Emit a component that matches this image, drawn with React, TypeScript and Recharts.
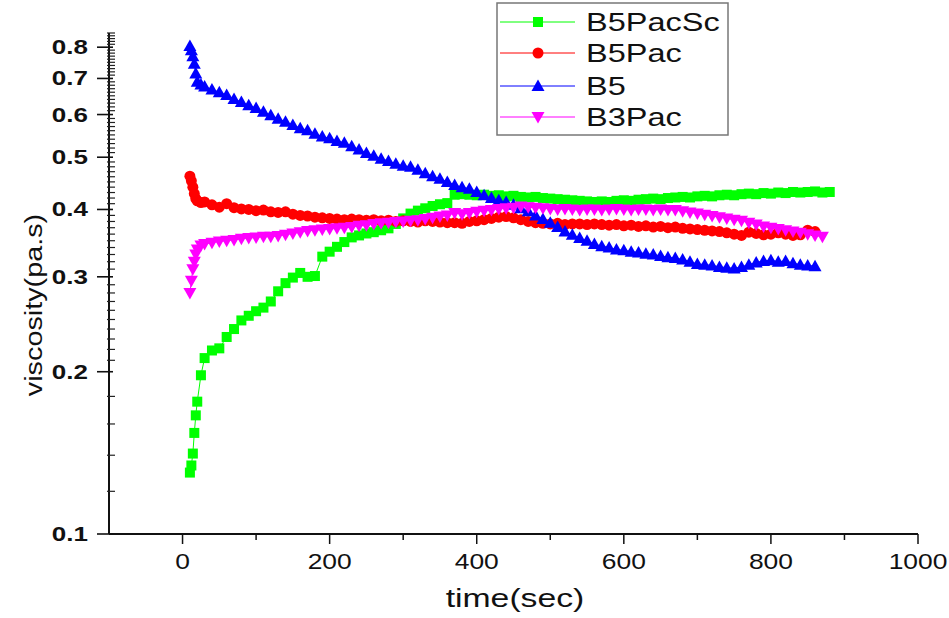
import React from "react";
import { LineChart, Line, XAxis, YAxis } from "recharts";

// time (sec) of each reading
const times = [
  10, 12, 14, 16, 18, 20, 25, 30, 40, 50,
  60, 70, 80, 90, 100, 110, 120, 130, 140, 150,
  160, 170, 180, 190, 200, 210, 220, 230, 240, 250,
  260, 270, 280, 290, 300, 310, 320, 330, 340, 350,
  360, 370, 380, 390, 400, 410, 420, 430, 440, 450,
  460, 470, 480, 490, 500, 510, 520, 530, 540, 550,
  560, 570, 580, 590, 600, 610, 620, 630, 640, 650,
  660, 670, 680, 690, 700, 710, 720, 730, 740, 750,
  760, 770, 780, 790, 800, 810, 820, 830, 840, 850,
  860, 870, 880,
];

const b5PacSc = [
  0.130, 0.134, 0.141, 0.154, 0.166, 0.176, 0.197, 0.212, 0.219, 0.221,
  0.232, 0.240, 0.249, 0.254, 0.259, 0.263, 0.270, 0.282, 0.292, 0.299,
  0.305, 0.300, 0.301, 0.327, 0.334, 0.341, 0.348, 0.355, 0.358, 0.361,
  0.363, 0.366, 0.369, 0.376, 0.385, 0.393, 0.398, 0.402, 0.406, 0.409,
  0.411, 0.426, 0.427, 0.426, 0.425, 0.426, 0.424, 0.425, 0.423, 0.424,
  0.422, 0.421, 0.422, 0.420, 0.419, 0.418, 0.417, 0.416, 0.415, 0.414,
  0.413, 0.414, 0.413, 0.415, 0.416, 0.415, 0.417, 0.418, 0.419, 0.418,
  0.420, 0.421, 0.422, 0.421, 0.423, 0.424, 0.423, 0.425, 0.426, 0.425,
  0.427, 0.428, 0.427, 0.429, 0.428, 0.430, 0.429, 0.431, 0.430, 0.431,
  0.432, 0.430, 0.431,
];

const b5Pac = [
  0.461, 0.452, 0.440, 0.428, 0.419, 0.415, 0.412, 0.413, 0.408, 0.404,
  0.410, 0.403, 0.401, 0.400, 0.398, 0.399, 0.396, 0.395, 0.396, 0.392,
  0.390, 0.389, 0.387, 0.386, 0.385, 0.384, 0.383, 0.384, 0.383, 0.382,
  0.383, 0.381, 0.382, 0.380, 0.381, 0.380, 0.379, 0.381, 0.380, 0.379,
  0.378, 0.378, 0.377, 0.380, 0.381, 0.383, 0.385, 0.387, 0.388, 0.386,
  0.383, 0.380, 0.378, 0.377, 0.376, 0.377, 0.375, 0.376, 0.376, 0.375,
  0.376, 0.375, 0.374, 0.375, 0.373, 0.374, 0.372, 0.373, 0.371, 0.372,
  0.370, 0.371, 0.369, 0.368, 0.367, 0.366, 0.365, 0.364, 0.362, 0.360,
  0.358, 0.363, 0.361, 0.359, 0.360, 0.362, 0.360, 0.358, 0.359, 0.366,
  0.364, null, null,
];

const b5 = [
  0.804, 0.790, 0.770, 0.745, 0.715, 0.690, 0.682, 0.676, 0.668, 0.660,
  0.652, 0.641, 0.633, 0.624, 0.617, 0.607, 0.598, 0.589, 0.582, 0.574,
  0.566, 0.561, 0.553, 0.546, 0.542, 0.536, 0.532, 0.524, 0.517, 0.509,
  0.503, 0.497, 0.492, 0.486, 0.482, 0.480, 0.474, 0.467, 0.461, 0.456,
  0.450, 0.444, 0.440, 0.437, 0.431, 0.425, 0.420, 0.416, 0.413, 0.408,
  0.402, 0.397, 0.390, 0.384, 0.378, 0.371, 0.364, 0.359, 0.354, 0.350,
  0.345, 0.342, 0.340, 0.337, 0.336, 0.334, 0.333, 0.331, 0.330, 0.328,
  0.326, 0.325, 0.323, 0.320, 0.317, 0.316, 0.315, 0.313, 0.312, 0.311,
  0.313, 0.316, 0.319, 0.321, 0.322, 0.320, 0.321, 0.318, 0.316, 0.315,
  0.314, null, null,
];

const b3Pac = [
  0.280, 0.295, 0.310, 0.320, 0.330, 0.337, 0.343, 0.345, 0.347, 0.349,
  0.350, 0.351, 0.353, 0.354, 0.355, 0.356, 0.356, 0.357, 0.359, 0.361,
  0.363, 0.365, 0.366, 0.367, 0.368, 0.369, 0.370, 0.371, 0.373, 0.374,
  0.376, 0.377, 0.378, 0.379, 0.380, 0.381, 0.382, 0.384, 0.386, 0.388,
  0.390, 0.394, 0.392, 0.394, 0.396, 0.398, 0.399, 0.401, 0.402, 0.403,
  0.405, 0.404, 0.403, 0.402, 0.401, 0.400, 0.401, 0.400, 0.399, 0.400,
  0.400, 0.399, 0.400, 0.401, 0.400, 0.399, 0.400, 0.400, 0.399, 0.400,
  0.399, 0.399, 0.397, 0.395, 0.393, 0.391, 0.389, 0.387, 0.385, 0.383,
  0.381, 0.378, 0.375, 0.372, 0.370, 0.368, 0.366, 0.364, 0.362, 0.360,
  0.358, 0.356, null,
];

const xTicks = [0, 100, 200, 300, 400, 500, 600, 700, 800, 900, 1000];
const xLabelled = [0, 200, 400, 600, 800, 1000];
const yMajor = [0.1, 0.2, 0.3, 0.4, 0.5, 0.6, 0.7, 0.8];
const yMinor = [
  0.12, 0.14, 0.16, 0.18,
  0.21, 0.22, 0.23, 0.24, 0.25, 0.26, 0.27, 0.28, 0.29,
  0.31, 0.32, 0.33, 0.34, 0.35, 0.36, 0.37, 0.38, 0.39,
  0.41, 0.42, 0.43, 0.44, 0.45, 0.46, 0.47, 0.48, 0.49,
  0.51, 0.52, 0.53, 0.54, 0.55, 0.56, 0.57, 0.58, 0.59,
  0.61, 0.62, 0.63, 0.64, 0.65, 0.66, 0.67, 0.68, 0.69,
  0.71, 0.72, 0.73, 0.74, 0.75, 0.76, 0.77, 0.78, 0.79,
  0.81, 0.82, 0.83, 0.84, 0.85,
];

const data = times.map((t, i) => ({
  time: t,
  b5PacSc: b5PacSc[i],
  b5Pac: b5Pac[i],
  b5: b5[i],
  b3Pac: b3Pac[i],
}));

const series = [
  { key: "b5PacSc", name: "B5PacSc", color: "#00ff00", shape: "square" },
  { key: "b5Pac", name: "B5Pac", color: "#ff0000", shape: "circle" },
  { key: "b5", name: "B5", color: "#0000ff", shape: "up" },
  { key: "b3Pac", name: "B3Pac", color: "#ff00ff", shape: "down" },
];

const FONT = "'Liberation Sans', Arial, Helvetica, sans-serif";

// the source picture is stretched sideways, so text gets a horizontal scale
const SText = ({ x, y, sx = 1, rotate = 0, anchor = "start", size, weight = "normal", children }: any) => (
  <text
    transform={`translate(${x},${y}) rotate(${rotate}) scale(${sx},1)`}
    textAnchor={anchor}
    fontSize={size}
    fontWeight={weight}
    fontFamily={FONT}
    fill="#111"
  >
    {children}
  </text>
);

const Marker = ({ shape, cx, cy, color }: any) => {
  if (shape === "square") return <rect x={cx - 5} y={cy - 5} width={10} height={10} fill={color} />;
  if (shape === "circle") return <circle cx={cx} cy={cy} r={5.5} fill={color} />;
  if (shape === "up")
    return <polygon points={`${cx},${cy - 6.5} ${cx - 6.5},${cy + 5} ${cx + 6.5},${cy + 5}`} fill={color} />;
  return <polygon points={`${cx},${cy + 6.5} ${cx - 6.5},${cy - 5} ${cx + 6.5},${cy - 5}`} fill={color} />;
};

const makeDot = (shape: string, color: string) => (props: any) => {
  const { cx, cy, index } = props;
  if (cx == null || cy == null || props.value == null) return <g key={`d${index}`} />;
  return (
    <g key={`d${index}`}>
      <Marker shape={shape} cx={cx} cy={cy} color={color} />
    </g>
  );
};

const YTick = (props: any) => {
  const { x, y, payload } = props;
  const v = payload.value;
  if (yMajor.includes(v)) {
    return (
      <g>
        <line x1={x - 12} x2={x + 4} y1={y} y2={y} stroke="#111" strokeWidth={1.6} />
        <SText x={x - 21} y={y + 7} anchor="end" size={20} weight="bold" sx={1.3}>
          {v.toFixed(1)}
        </SText>
      </g>
    );
  }
  return <line x1={x - 2} x2={x + 6} y1={y} y2={y} stroke="#222" strokeWidth={1.2} />;
};

const XTick = (props: any) => {
  const { x, y, payload } = props;
  const v = payload.value;
  const major = xLabelled.includes(v);
  return (
    <g>
      <line x1={x} x2={x} y1={y} y2={y + (major ? 10 : 6)} stroke="#111" strokeWidth={1.5} />
      {major && (
        <SText x={x} y={y + 35} anchor="middle" size={22} sx={1.2}>
          {v}
        </SText>
      )}
    </g>
  );
};

const LegendBox = () => {
  const rows = [20, 51, 84, 115];
  return (
    <svg
      width={234}
      height={135}
      style={{ position: "absolute", left: 496, top: 2, pointerEvents: "none" }}
    >
      <rect x={1} y={1} width={231} height={132} fill="#fff" stroke="#777" strokeWidth={1.5} />
      {series.map((s, i) => (
        <g key={s.key}>
          <line x1={4} x2={79} y1={rows[i]} y2={rows[i]} stroke={s.color} strokeWidth={1} />
          <Marker shape={s.shape} cx={42} cy={rows[i]} color={s.color} />
          <SText x={90} y={rows[i] + 9} size={25} sx={1.3}>
            {s.name}
          </SText>
        </g>
      ))}
    </svg>
  );
};

export default function App() {
  return (
    <div style={{ position: "absolute", left: 0, top: 0, width: 949, height: 618, background: "#fff" }}>
      <LineChart width={949} height={618} data={data} margin={{ top: 33, right: 31, bottom: 0, left: 0 }}>
        <XAxis
          dataKey="time"
          type="number"
          domain={[-100, 1000]}
          allowDataOverflow
          ticks={xTicks}
          interval={0}
          height={84}
          tickSize={0}
          tickMargin={0}
          tickLine={false}
          tick={<XTick />}
          axisLine={{ stroke: "#111", strokeWidth: 2 }}
          label={{
            content: () => (
              <SText x={515} y={607} anchor="middle" size={25} sx={1.35}>
                time(sec)
              </SText>
            ),
          }}
        />
        <YAxis
          type="number"
          scale="log"
          domain={[0.1, 0.85]}
          allowDataOverflow
          ticks={[...yMajor, ...yMinor]}
          interval={0}
          width={109}
          tickSize={0}
          tickMargin={0}
          tickLine={false}
          tick={<YTick />}
          axisLine={{ stroke: "#111", strokeWidth: 2 }}
          label={{
            content: () => (
              <SText x={42} y={305} anchor="middle" rotate={-90} size={24} sx={1.2}>
                viscosity(pa.s)
              </SText>
            ),
          }}
        />
        {series.map((s) => (
          <Line
            key={s.key}
            type="linear"
            dataKey={s.key}
            name={s.name}
            stroke={s.color}
            strokeWidth={1}
            dot={makeDot(s.shape, s.color)}
            activeDot={false}
            isAnimationActive={false}
          />
        ))}
      </LineChart>
      <LegendBox />
    </div>
  );
}
